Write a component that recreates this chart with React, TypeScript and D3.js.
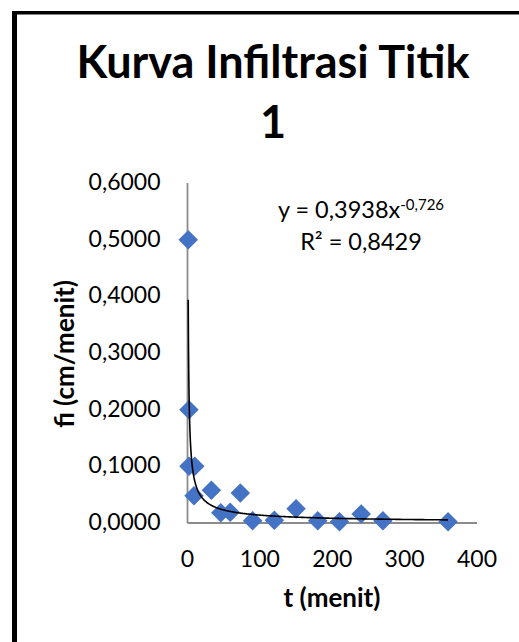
import React, { useEffect, useRef } from "react";
import * as d3 from "d3";

const tValues = [1, 2, 2, 10, 9, 33, 46, 59, 73, 90, 120, 150, 180, 210, 240, 270, 360];
const fiValues = [0.5, 0.2, 0.1, 0.1, 0.048, 0.058, 0.018, 0.019, 0.053, 0.004, 0.005, 0.025, 0.004, 0.002, 0.016, 0.004, 0.002];
const xTicks = [0, 100, 200, 300, 400];
const yTicks = [0, 0.1, 0.2, 0.3, 0.4, 0.5, 0.6];
const fitA = 0.3938;
const fitB = -0.726;
const fitRange = [1, 360];
const titleLines = ["Kurva Infiltrasi Titik", "1"];
const xTitle = "t (menit)";
const yTitle = "fi (cm/menit)";
const eqMain = "y = 0,3938x";
const eqExp = "-0,726";
const r2Text = "R² = 0,8429";

const W = 519;
const H = 642;
const FONT = "Lato, 'Open Sans', sans-serif";

export default function App() {
  const ref = useRef<SVGSVGElement>(null);
  useEffect(() => {
    const svg = d3.select(ref.current);
    svg.selectAll("*").remove();
    const x = d3.scaleLinear().domain([0, 400]).range([187.5, 477]);
    const y = d3.scaleLinear().domain([0, 0.6]).range([523, 183]);

    svg.append("rect").attr("width", W).attr("height", H).attr("fill", "#fff");
    // border
    svg.append("rect").attr("x", 12).attr("y", 11).attr("width", 5).attr("height", H - 11).attr("fill", "#000");
    svg.append("rect").attr("x", 12).attr("y", 11).attr("width", W - 12).attr("height", 3.5).attr("fill", "#000");

    // title
    const title = svg.append("text").attr("font-family", FONT).attr("font-weight", 700)
      .attr("font-size", 45).attr("text-anchor", "middle").attr("fill", "#000");
    title.append("tspan").attr("x", 273).attr("y", 78).text(titleLines[0]);
    title.append("tspan").attr("x", 273).attr("y", 138).text(titleLines[1]);

    // axes
    svg.append("line").attr("x1", x(0)).attr("x2", x(0)).attr("y1", y(0.6)).attr("y2", y(0))
      .attr("stroke", "#8c8c8c").attr("stroke-width", 1.8);
    svg.append("line").attr("x1", x(0)).attr("x2", x(400)).attr("y1", y(0)).attr("y2", y(0))
      .attr("stroke", "#8c8c8c").attr("stroke-width", 1.8);

    const fmt = (v: number) => d3.format(".4f")(v).replace(".", ",");
    svg.append("g").selectAll("text").data(yTicks).join("text")
      .attr("x", 160.5).attr("y", (d) => y(d) + 7)
      .attr("text-anchor", "end").attr("font-family", FONT).attr("font-size", 23)
      .attr("fill", "#000").text((d) => fmt(d));
    svg.append("g").selectAll("text").data(xTicks).join("text")
      .attr("x", (d) => x(d)).attr("y", 567)
      .attr("text-anchor", "middle").attr("font-family", FONT).attr("font-size", 23)
      .attr("fill", "#000").text((d) => String(d));

    svg.append("text").attr("x", 332).attr("y", 607).attr("text-anchor", "middle")
      .attr("font-family", FONT).attr("font-weight", 700).attr("font-size", 26).text(xTitle);
    svg.append("text").attr("transform", "translate(74,354) rotate(-90)").attr("text-anchor", "middle")
      .attr("font-family", FONT).attr("font-weight", 700).attr("font-size", 26).text(yTitle);

    // points
    const sym = d3.symbol().type(d3.symbolSquare).size(190);
    svg.append("g").selectAll("path").data(tValues.map((t, i) => [t, fiValues[i]])).join("path")
      .attr("d", sym as any)
      .attr("transform", (d) => `translate(${x(d[0])},${y(d[1])}) rotate(45)`)
      .attr("fill", "#4472C4");

    // trendline
    const samples = d3.range(0, 401).map((i) => fitRange[0] * Math.pow(fitRange[1] / fitRange[0], i / 400));
    const line = d3.line<number>().x((t) => x(t)).y((t) => y(fitA * Math.pow(t, fitB)));
    svg.append("path").attr("d", line(samples)).attr("fill", "none").attr("stroke", "#000").attr("stroke-width", 1.6);

    // equation
    const eq = svg.append("text").attr("font-family", FONT).attr("font-size", 23.5).attr("text-anchor", "middle").attr("fill", "#000");
    eq.append("tspan").attr("x", 361).attr("y", 218).text(eqMain);
    eq.append("tspan").attr("font-size", 15).attr("dy", -8).text(eqExp);
    svg.append("text").attr("font-family", FONT).attr("font-size", 23.5).attr("text-anchor", "middle")
      .attr("x", 361).attr("y", 250).text(r2Text);
  }, []);
  return (
    <svg ref={ref} width={W} height={H} style={{ position: "absolute", left: 0, top: 0, display: "block" }} />
  );
}
